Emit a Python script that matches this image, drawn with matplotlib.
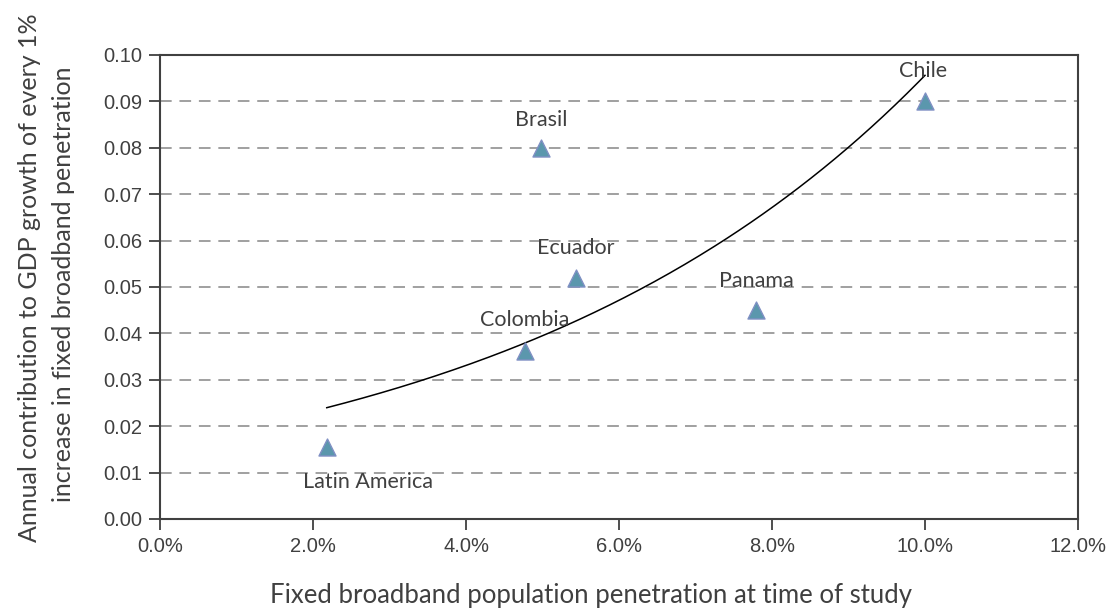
import numpy as np
import matplotlib
matplotlib.use('Agg')
import matplotlib.pyplot as plt
from matplotlib.ticker import FuncFormatter

plt.rcParams['font.family'] = ['Liberation Sans', 'DejaVu Sans']

# data (x in %, y = annual GDP contribution)
countries = ['Latin America', 'Colombia', 'Brasil', 'Ecuador', 'Panama', 'Chile']
penetration = [2.18, 4.77, 4.98, 5.44, 7.79, 10.0]
contribution = [0.0155, 0.0362, 0.080, 0.052, 0.045, 0.090]
# label offsets in pixels (dx, dy)
label_offsets = [(41, -35), (0, 31), (0, 28), (0, 30), (0, 29), (-2, 30)]

text_col = '#404040'
label_font = 'Lato'

fig = plt.figure(figsize=(11.14, 6.08), dpi=100)
ax = fig.add_axes([160 / 1114, 1 - 519 / 608, 918 / 1114, 464 / 608])

# exponential trendline, as excel would fit it
x = np.array(penetration)
y = np.array(contribution)
b, ln_a = np.polyfit(x, np.log(y), 1)
xs = np.linspace(x.min(), x.max(), 200)
ax.plot(xs, np.exp(ln_a + b * xs), color='black', lw=1.1, zorder=3)

ax.scatter(x, y, marker='^', s=150, facecolor='#5b97ad', edgecolor='#8090c4',
           linewidth=1.0, zorder=4)

for name, xi, yi, (dx, dy) in zip(countries, penetration, contribution, label_offsets):
    ax.annotate(name, (xi, yi), xytext=(dx, dy), textcoords='offset pixels',
                ha='center', va='center', fontsize=15.5, family=label_font,
                color=text_col)

ax.set_xlim(0, 12)
ax.set_ylim(0, 0.10)
ax.set_xticks(np.arange(0, 12.1, 2))
ax.set_yticks(np.arange(0, 0.101, 0.01))
ax.xaxis.set_major_formatter(FuncFormatter(lambda v, p: f'{v:.1f}%'))
ax.yaxis.set_major_formatter(FuncFormatter(lambda v, p: f'{v:.2f}'))

for yv in np.arange(0.01, 0.095, 0.01):
    ax.axhline(yv, color='#a0a0a0', lw=1.4, dashes=(6, 4), zorder=1)

for sp in ax.spines.values():
    sp.set_color('#404040')
    sp.set_linewidth(1.5)
ax.tick_params(direction='out', length=8, width=1.3, color='#404040',
               labelsize=14.5, labelcolor=text_col, pad=5)

fig.text(591 / 1114, 1 - 596 / 608, 'Fixed broadband population penetration at time of study',
         ha='center', va='center', fontsize=18.5, family=label_font, color=text_col)
fig.text(30 / 1114, 1 - 278 / 608, 'Annual contribution to GDP growth of every 1%',
         ha='center', va='center', rotation=90, fontsize=18, family=label_font, color=text_col)
fig.text(64 / 1114, 1 - 284 / 608, 'increase in fixed broadband penetration',
         ha='center', va='center', rotation=90, fontsize=18, family=label_font, color=text_col)

fig.savefig('out.png', dpi=100)
